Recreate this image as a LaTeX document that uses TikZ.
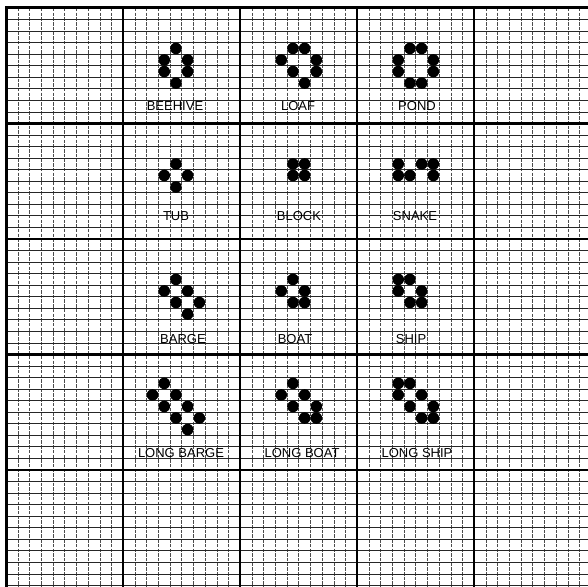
\documentclass[tikz,border=0pt]{standalone}
\usepackage{fontspec}
\setmainfont{Liberation Sans}
\begin{document}
\begin{tikzpicture}[x=1pt,y=-1pt,
  hthin/.style={line width=0.9pt, black!85},
  vthin/.style={line width=0.8pt, black!70, dash pattern=on 3.5pt off 1.2pt},
  thickline/.style={line width=2.2pt, black},
  borderline/.style={line width=3pt, black},
  lbl/.style={inner sep=0pt, font=\fontsize{13}{13}\selectfont},
  lifedot/.style={fill=black}]
\useasboundingbox (0,0) rectangle (588,586);
\fill[white] (0,0) rectangle (588,586);
\begin{scope}
\clip (0,0) rectangle (588,586);
  \foreach \i in {0,...,50}{
    \pgfmathsetmacro\gx{6.3+11.7*\i}
    \draw[vthin] (\gx,8) -- (\gx,590);}
  \foreach \j in {0,...,50}{
    \pgfmathsetmacro\gy{8+11.55*\j}
    \draw[hthin] (6.3,\gy) -- (592,\gy);}
  \foreach \i in {1,...,5}{
    \pgfmathsetmacro\gx{6.3+117*\i}
    \draw[thickline] (\gx,8) -- (\gx,590);}
  \foreach \j in {1,...,4}{
    \pgfmathsetmacro\gy{8+115.5*\j}
    \draw[thickline] (6.3,\gy) -- (592,\gy);}
  \draw[borderline] (6.3,590) -- (6.3,8) -- (592,8);
  % still lifes
  \foreach \cx/\cy in {
    14/3, 13/4, 15/4, 13/5, 15/5, 14/6,
    24/3, 25/3, 23/4, 26/4, 24/5, 26/5, 25/6,
    34/3, 35/3, 33/4, 36/4, 33/5, 36/5, 34/6, 35/6,
    14/13, 13/14, 15/14, 14/15,
    24/13, 25/13, 24/14, 25/14,
    33/13, 35/13, 36/13, 33/14, 34/14, 36/14,
    14/23, 13/24, 15/24, 14/25, 16/25, 15/26,
    24/23, 23/24, 25/24, 24/25, 25/25,
    33/23, 34/23, 33/24, 35/24, 34/25, 35/25,
    13/32, 12/33, 14/33, 13/34, 15/34, 14/35, 16/35, 15/36,
    24/32, 23/33, 25/33, 24/34, 26/34, 25/35, 26/35,
    33/32, 34/32, 33/33, 35/33, 34/34, 36/34, 35/35, 36/35}
    {\pgfmathsetmacro\dx{6.3+11.7*(\cx+0.5)}
     \pgfmathsetmacro\dy{8+11.55*(\cy+0.5)}
     \fill[lifedot] (\dx,\dy) circle[radius=5.8pt];}
\end{scope}
\node[lbl] (beehive) at (175,106.5) {BEEHIVE};
\node[lbl] (loaf) at (298,106.5) {LOAF};
\node[lbl] (pond) at (417,106.5) {POND};
\node[lbl] (tub) at (176,216) {TUB};
\node[lbl] (block) at (299,216) {BLOCK};
\node[lbl] (snake) at (415,216) {SNAKE};
\node[lbl] (barge) at (183,339.5) {BARGE};
\node[lbl] (boat) at (295,339.5) {BOAT};
\node[lbl] (ship) at (411,339.5) {SHIP};
\node[lbl] (longbarge) at (181,453) {LONG BARGE};
\node[lbl] (longboat) at (302,453) {LONG BOAT};
\node[lbl] (longship) at (417,453) {LONG SHIP};
\end{tikzpicture}
\end{document}
